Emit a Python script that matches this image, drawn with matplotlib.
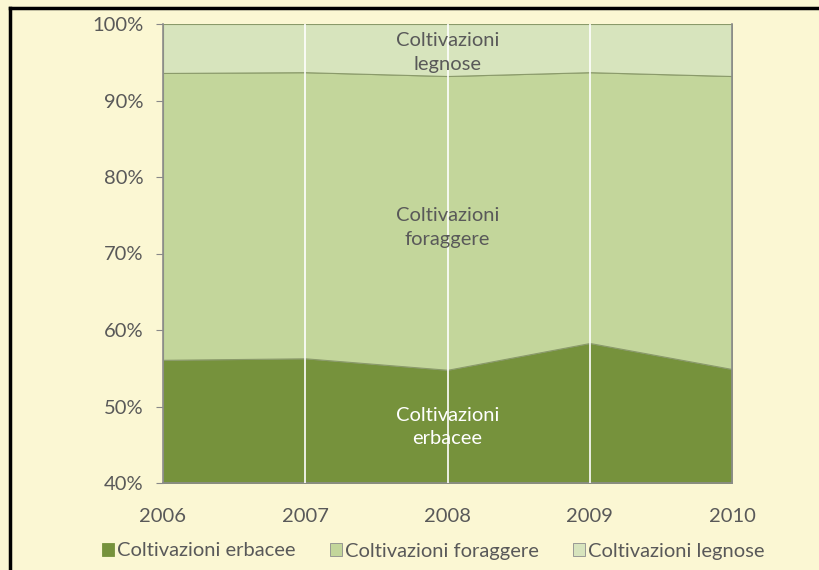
import matplotlib
matplotlib.use("Agg")
import matplotlib.pyplot as plt
from matplotlib.patches import Patch
from matplotlib.lines import Line2D

years = [2006, 2007, 2008, 2009, 2010]
erbacee = [56.1, 56.3, 54.8, 58.3, 54.9]
foraggere = [37.5, 37.4, 38.4, 35.4, 38.3]
legnose = [6.4, 6.3, 6.8, 6.3, 6.8]
series_names = ["Coltivazioni erbacee", "Coltivazioni foraggere", "Coltivazioni legnose"]
colors = ["#76923C", "#C3D69B", "#D7E4BD"]
ytick_vals = [40, 50, 60, 70, 80, 90, 100]

plt.rcParams['font.family'] = ['Lato', 'DejaVu Sans']
txt = "#595959"
bg = "#FBF7D3"
fs = 14.5

W, H = 819, 570
fig = plt.figure(figsize=(W/100, H/100), dpi=100)
fig.patch.set_facecolor(bg)
ax = fig.add_axes([163/W, 1-483/H, (732-163)/W, (483-24)/H])
ax.set_facecolor(bg)

ax.stackplot(years, erbacee, foraggere, legnose, colors=colors,
             edgecolor="#8A9A6A", linewidth=0.8)

for x in years[1:-1]:
    ax.axvline(x, color="white", lw=1.2, zorder=3)

ax.set_xlim(years[0], years[-1])
ax.set_ylim(40, 100)
ax.set_yticks(ytick_vals)
ax.set_yticklabels([f"{v}%" for v in ytick_vals])
ax.set_xticks(years)
ax.set_xticklabels([str(y) for y in years])
ax.tick_params(axis='y', length=5, color="#888888", labelcolor=txt, labelsize=fs, pad=9)
ax.tick_params(axis='x', length=0, labelcolor=txt, labelsize=fs, pad=18)
ax.spines["top"].set_visible(False)
for s in ["left", "bottom", "right"]:
    ax.spines[s].set_color("#8C8C8C")
    ax.spines[s].set_linewidth(1.2)

ax.text(2008, 47.3, "Coltivazioni\nerbacee", ha="center", va="center",
        color="white", fontsize=fs, linespacing=1.4, zorder=4)
ax.text(2008, 73.4, "Coltivazioni\nforaggere", ha="center", va="center",
        color=txt, fontsize=fs, linespacing=1.5, zorder=4)
ax.text(2008, 96.3, "Coltivazioni\nlegnose", ha="center", va="center",
        color=txt, fontsize=fs, linespacing=1.5, zorder=4)

handles = [Patch(facecolor=c, edgecolor="#8C8C8C" if i > 0 else c, lw=0.6) for i, c in enumerate(colors)]
fig.legend(handles, series_names, loc="center", bbox_to_anchor=(433/W, 1-551/H),
           ncol=3, frameon=False, fontsize=fs, labelcolor=txt,
           handlelength=0.6, handleheight=0.6, handletextpad=0.15, columnspacing=1.7)

fig.add_artist(Line2D([10/W, 10/W], [0, 1-8/H], transform=fig.transFigure, color="black", lw=2.5))
fig.add_artist(Line2D([10/W, 1], [1-8/H, 1-8/H], transform=fig.transFigure, color="black", lw=2.5))

fig.savefig("out.png", dpi=100, facecolor=bg)
